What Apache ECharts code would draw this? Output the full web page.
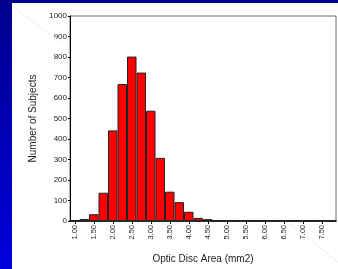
<!DOCTYPE html>
<html>
<head>
<meta charset="utf-8">
<script src="https://cdn.jsdelivr.net/npm/echarts@6/dist/echarts.min.js"></script>
<style>
  html, body { margin: 0; padding: 0; background: #fff; }
  #chart { width: 338px; height: 269px; }
</style>
</head>
<body>
<div id="chart"></div>
<script>
// bin midpoints (mm2) and counts
const binLabels = ['1.00', '1.25', '1.50', '1.75', '2.00', '2.25', '2.50', '2.75', '3.00', '3.25',
  '3.50', '3.75', '4.00', '4.25', '4.50', '4.75', '5.00', '5.25', '5.50', '5.75',
  '6.00', '6.25', '6.50', '6.75', '7.00', '7.25', '7.50', '7.75'];
const subjectCounts = [2, 10, 33, 138, 442, 668, 802, 724, 538, 308,
  143, 92, 45, 15, 9, 3, 2, 1, 1, 0,
  1, 1, 1, 0, 0, 0, 0, 1];
const yTicks = { min: 0, max: 1000, interval: 100 };

const chart = echarts.init(document.getElementById('chart'));
chart.setOption({
  animation: false,
  backgroundColor: '#ffffff',
  textStyle: { fontFamily: 'Liberation Sans, Arial, sans-serif' },
  grid: { left: 70, top: 16, right: 2, bottom: 48, show: true, borderColor: '#6a6a6a', borderWidth: 1, backgroundColor: 'transparent' },
  xAxis: {
    type: 'category',
    data: binLabels,
    boundaryGap: true,
    name: 'Optic Disc Area (mm2)',
    nameLocation: 'middle',
    nameGap: 33,
    nameTextStyle: { fontSize: 10, color: '#222' },
    axisLine: { lineStyle: { color: '#000', width: 1.5 } },
    axisTick: { show: true, interval: 1, alignWithLabel: true, length: 3, lineStyle: { color: '#000' } },
    axisLabel: { interval: 1, rotate: 90, fontSize: 7.5, color: '#222', margin: 4 }
  },
  yAxis: {
    type: 'value',
    min: yTicks.min, max: yTicks.max, interval: yTicks.interval,
    name: 'Number of Subjects',
    nameLocation: 'middle',
    nameGap: 28,
    nameTextStyle: { fontSize: 10, color: '#222' },
    splitLine: { show: false },
    axisLine: { show: true, lineStyle: { color: '#000', width: 1 } },
    axisTick: { show: true, length: 2, lineStyle: { color: '#000' } },
    axisLabel: { fontSize: 8, color: '#222', margin: 3, formatter: (v) => String(v) }
  },
  series: [{
    type: 'bar',
    data: subjectCounts,
    barCategoryGap: 0,
    itemStyle: { color: '#ff0000', borderColor: '#222', borderWidth: 1 }
  }],
  graphic: [
    // slide background strips
    { type: 'rect', left: 0, top: 0, z: 100, shape: { width: 12, height: 269 },
      style: { fill: new echarts.graphic.LinearGradient(0, 0, 0, 1, [{ offset: 0, color: '#00008c' }, { offset: 1, color: '#0000dd' }]) } },
    { type: 'rect', left: 0, top: 0, z: 100, shape: { width: 338, height: 3 }, style: { fill: '#00008c' } },
    { type: 'line', z: 1, shape: { x1: 14, y1: 7, x2: 60, y2: 42 }, style: { stroke: '#ececf2', lineWidth: 1 } },
    { type: 'line', z: 1, shape: { x1: 290, y1: 224, x2: 338, y2: 262 }, style: { stroke: '#ececf2', lineWidth: 1 } }
  ]
});
</script>
</body>
</html>
